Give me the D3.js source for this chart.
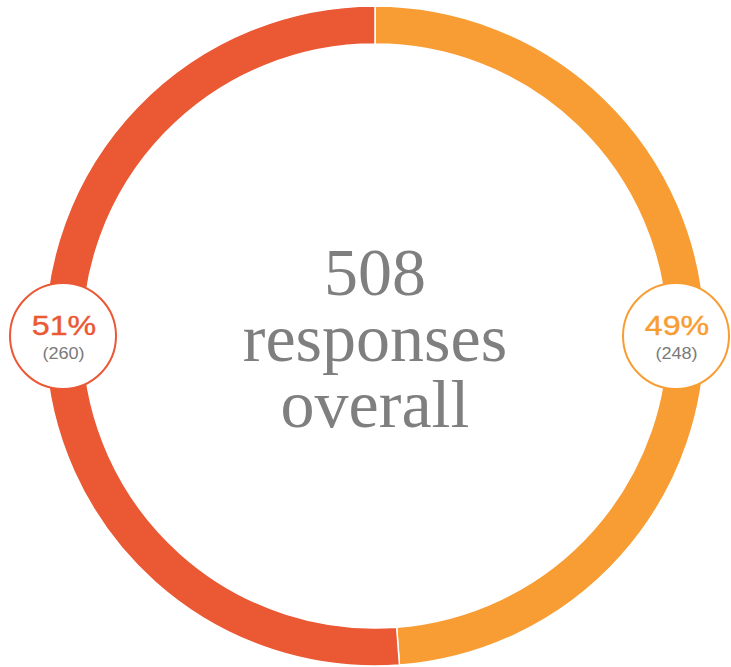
<!DOCTYPE html>
<html>
<head>
<meta charset="utf-8">
<script src="https://cdn.jsdelivr.net/npm/d3@7/dist/d3.min.js"></script>
<style>
  html, body { margin: 0; padding: 0; background: #fff; }
  svg { display: block; }
</style>
</head>
<body>
<svg id="chart" width="731" height="667"></svg>
<script>
// Data
const categories = ["A", "B"];
const counts = [248, 260];
const colors = ["#F89D33", "#EA5834"];
const centerLines = ["508", "responses", "overall"];

const W = 731, H = 667;
const cx = 375, cy = 336;
const outerR = 330, innerR = 292;
const labelR = 53, labelDist = 312;

const svg = d3.select("#chart");
const g = svg.append("g").attr("transform", `translate(${cx},${cy})`);

const total = d3.sum(counts);
const data = categories.map((c, i) => ({ cat: c, value: counts[i], color: colors[i] }));

const pie = d3.pie().value(d => d.value).sort(null);
const arc = d3.arc().innerRadius(innerR).outerRadius(outerR);

g.selectAll("path.seg")
  .data(pie(data))
  .join("path")
  .attr("class", "seg")
  .attr("d", arc)
  .attr("fill", d => d.data.color)
  .attr("stroke", "#fff")
  .attr("stroke-width", 1.5);

// center text
const ct = g.append("g");
centerLines.forEach((t, i) => {
  ct.append("text")
    .attr("x", 0)
    .attr("y", -41 + i * 66)
    .attr("text-anchor", "middle")
    .attr("font-family", "'Liberation Serif', 'Times New Roman', serif")
    .attr("font-size", 68)
    .attr("fill", "#7f7f7f")
    .text(t);
});

// labels: first series on the right, second on the left
data.forEach((d, i) => {
  const side = i === 0 ? 1 : -1;
  let x = cx + side * labelDist;
  x = Math.max(labelR + 2, Math.min(W - labelR - 2, x));
  const lg = svg.append("g").attr("transform", `translate(${x},${cy})`);
  lg.append("circle")
    .attr("r", labelR)
    .attr("fill", "#fff")
    .attr("stroke", d.color)
    .attr("stroke-width", 2);
  const pct = Math.round(d.value / total * 100) + "%";
  lg.append("text")
    .attr("transform", "translate(1,-1) scale(1.15,1)")
    .attr("text-anchor", "middle")
    .attr("font-family", "'Liberation Sans', Arial, sans-serif")
    .attr("font-size", 28)
    .attr("stroke", d.color)
    .attr("stroke-width", 0.4)
    .attr("fill", d.color)
    .text(pct);
  lg.append("text")
    .attr("transform", "translate(0.5,23) scale(1.13,1)")
    .attr("text-anchor", "middle")
    .attr("font-family", "'Liberation Sans', Arial, sans-serif")
    .attr("font-size", 16)
    .attr("fill", "#7a7a7a")
    .text("(" + d.value + ")");
});
</script>
</body>
</html>
